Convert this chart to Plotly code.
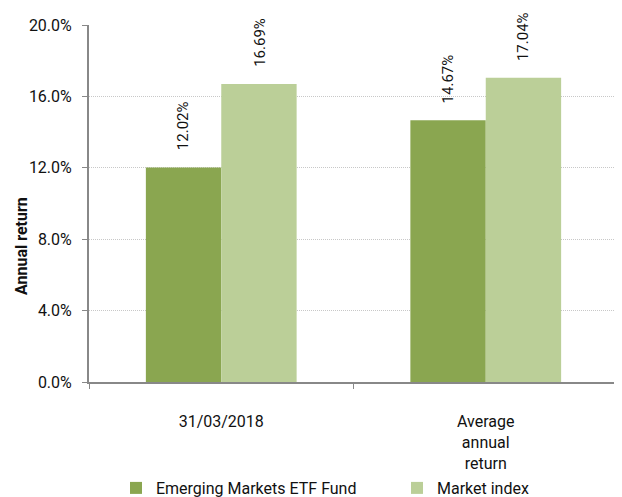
import plotly.graph_objects as go

categories = ["31/03/2018", "Average<br>annual<br>return"]
fund_values = [12.02, 14.67]
index_values = [16.69, 17.04]
series_names = ["Emerging Markets ETF Fund", "Market index"]
colors = ["#8AA650", "#BBCF98"]
y_ticks = [0, 4, 8, 12, 16, 20]

FONT = "Roboto, Arial, sans-serif"

fig = go.Figure()
legend_widths = [236, 110]
for name, vals, col, lw in zip(series_names, [fund_values, index_values], colors, legend_widths):
    fig.add_trace(go.Bar(
        x=categories, y=vals, name=name, marker_color=col,
        marker_line_width=0, legendwidth=lw,
    ))

# value labels above bars, rotated
offsets = [-38, 38]
for vals, off in zip([fund_values, index_values], offsets):
    for c, v in zip(categories, vals):
        fig.add_annotation(
            x=c, y=v, text=f"{v:.2f}%", textangle=-90, showarrow=False,
            xshift=off, yshift=15, yanchor="bottom", xanchor="center",
            font=dict(family=FONT, size=15, color="#111"),
        )

# y-axis title (placed lower than the axis centre, as in the reference)
fig.add_annotation(
    text="<b>Annual return</b>", textangle=-90, showarrow=False,
    xref="paper", yref="paper", x=0, y=0.381, xanchor="center", yanchor="middle",
    xshift=-67, font=dict(family=FONT, size=16, color="#111"),
)

fig.update_layout(
    width=622, height=497,
    margin=dict(l=81, r=12, t=17, b=123, autoexpand=False),
    paper_bgcolor="white", plot_bgcolor="white",
    barmode="group", bargap=0.43, bargroupgap=0,
    font=dict(family=FONT, size=16, color="#111"),
    showlegend=True,
    legend=dict(
        orientation="h", x=0.051, xanchor="left",
        yref="container", y=0.0, yanchor="bottom",
        entrywidthmode="pixels",
        font=dict(family=FONT, size=16, color="#111"),
        itemwidth=30,
    ),
)
fig.update_xaxes(
    showline=True, linecolor="#888", linewidth=2,
    ticks="outside", tickcolor="#888", ticklen=5, tickwidth=1,
    tickson="boundaries", ticklabelstandoff=24,
    showgrid=False, automargin=False,
)
fig.update_yaxes(
    range=[0, 20], tickvals=y_ticks,
    ticktext=[f"{t:.1f}%" for t in y_ticks],
    showline=True, linecolor="#888", linewidth=2,
    ticks="outside", tickcolor="#888", ticklen=5, ticklabelstandoff=7,
    showgrid=True, gridcolor="#c8c8c8", griddash="1px,1px", gridwidth=1,
    zeroline=False, automargin=False,
)

fig.write_html("out.html")
